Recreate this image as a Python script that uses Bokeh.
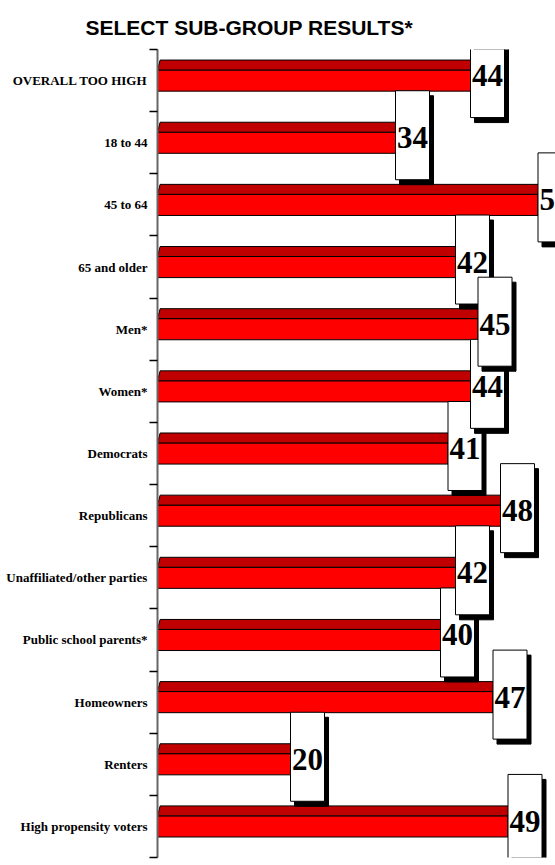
from bokeh.plotting import figure
from bokeh.models import Range1d, FixedTicker, ColumnDataSource
from bokeh.core.properties import value
from bokeh.embed import file_html
from bokeh.resources import INLINE

categories = [
    "OVERALL TOO HIGH", "18 to 44", "45 to 64", "65 and older", "Men*", "Women*",
    "Democrats", "Republicans", "Unaffiliated/other parties", "Public school parents*",
    "Homeowners", "Renters", "High propensity voters",
]
values = [44, 34, 53, 42, 45, 44, 41, 48, 42, 40, 47, 20, 49]
title_text = "SELECT SUB-GROUP RESULTS*"

W, H = 555, 865
LEFT, TOP, BOTTOM = 157, 49, 8
x_lo, x_hi = 17 / 7.5, (W - 140) / 7.5
n = len(categories)
px_x = (W - LEFT) / (x_hi - x_lo)
px_y = (H - TOP - BOTTOM) / n

p = figure(width=W, height=H, x_range=Range1d(x_lo, x_hi), y_range=Range1d(0, n),
           output_backend="svg", toolbar_location=None, x_axis_location=None,
           min_border_left=LEFT, min_border_right=0, min_border_top=TOP,
           min_border_bottom=BOTTOM)
p.xgrid.visible = False
p.ygrid.visible = False
p.outline_line_color = None
p.background_fill_color = "white"

centers = [n - i - 0.5 for i in range(n)]

# front faces
front = ColumnDataSource(dict(
    left=[x_lo] * n, right=values,
    bottom=[c - 0.17 for c in centers], top=[c + 0.17 for c in centers]))
p.quad(left="left", right="right", bottom="bottom", top="top", source=front,
       fill_color="#FF0000", line_color="black", line_width=1)

# top faces and right side faces
d = 0.35
top_xs, top_ys, side_xs, side_ys = [], [], [], []
for c, v in zip(centers, values):
    top_xs.append([x_lo, v, v + d, x_lo + d])
    top_ys.append([c + 0.17, c + 0.17, c + 0.33, c + 0.33])
    side_xs.append([v, v + d, v + d, v])
    side_ys.append([c - 0.17, c + 0.01, c + 0.33, c + 0.17])
p.patches(top_xs, top_ys, fill_color="#C00000", line_color="black", line_width=1)
p.patches(side_xs, side_ys, fill_color="#A00000", line_color="black", line_width=1)

# label boxes with shadows, larger values drawn on top
order = sorted(range(n), key=lambda i: values[i])
bw = 34 / px_x
bt = 52 / px_y
bb = 37 / px_y
sx = 4 / px_x
sy = 5 / px_y
bl, br, bbot, btop, bcol = [], [], [], [], []
for i in order:
    v, c = values[i], centers[i]
    bl += [v + sx, v]
    br += [v + bw + sx, v + bw]
    bbot += [c - bb - sy, c - bb]
    btop += [c + bt - sy, c + bt]
    bcol += ["black", "white"]
boxes = ColumnDataSource(dict(left=bl, right=br, bottom=bbot, top=btop, color=bcol))
p.quad(left="left", right="right", bottom="bottom", top="top", source=boxes,
       fill_color="color", line_color="black", line_width=1)

labels = ColumnDataSource(dict(
    x=[v + bw / 2 for v in values],
    y=[c + 5 / px_y for c in centers],
    t=[str(v) for v in values]))
p.text(x="x", y="y", text="t", source=labels, text_font=value("Liberation Serif"),
       text_font_style="bold", text_font_size="31px", text_align="center",
       text_baseline="middle", text_color="black")

ax = p.yaxis[0]
ax.ticker = FixedTicker(ticks=centers, minor_ticks=list(range(0, n + 1)))
ax.major_label_overrides = {c: lab for c, lab in zip(centers, categories)}
ax.major_tick_out = 0
ax.major_tick_in = 0
ax.minor_tick_out = 8
ax.minor_tick_in = 0
ax.minor_tick_line_color = "black"
ax.minor_tick_line_width = 1.5
ax.axis_line_color = "#666666"
ax.axis_line_width = 2
ax.major_label_standoff = 2
ax.major_label_text_font = "Liberation Serif"
ax.major_label_text_font_style = "bold"
ax.major_label_text_font_size = "13px"
ax.major_label_text_color = "black"

p.title.text = title_text
p.title.text_font = "Liberation Sans"
p.title.text_font_style = "bold"
p.title.text_font_size = "21px"
p.title.align = "left"
p.title.offset = -72
p.title.standoff = 21
p.title.text_color = "black"

open("out.html", "w").write(file_html(p, INLINE))
